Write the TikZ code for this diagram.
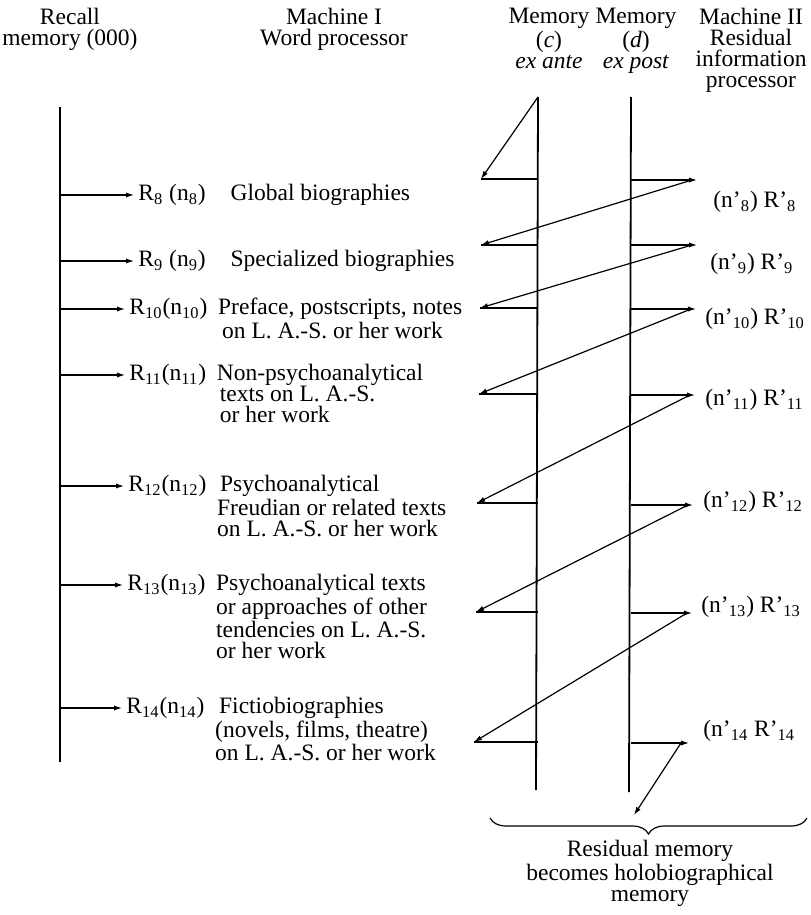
\documentclass[tikz,border=0pt]{standalone}
\usepackage{fontspec}
\setmainfont{Liberation Serif}
\usetikzlibrary{arrows.meta,positioning,decorations.pathreplacing}
\tikzset{
  hdr/.style={align=center, inner sep=0pt},
  rlab/.style={inner xsep=2pt, inner ysep=0pt},
  desc/.style={align=left, inner sep=0pt},
  plab/.style={inner sep=0pt},
  mline/.style={line width=0.9pt},
  hline/.style={line width=0.6pt},
  arr/.style={-{Latex[length=4pt,width=2.6pt]}, line width=0.6pt},
}

\begin{document}
\begin{tikzpicture}[x=0.5pt, y=-0.5pt, font=\fontsize{11.75}{10.5}\selectfont]
\useasboundingbox (0,0) rectangle (810,915);

% column headings
\node[hdr, anchor=north] (recall) at (70,8) {Recall\\memory (000)};
\node[hdr, anchor=north] (mach1) at (334,8) {Machine I\\Word processor};
\node[hdr, anchor=north] (memc) at (549,8) {Memory\\(\textit{c})\\\textit{ex ante}};
\node[hdr, anchor=north] (memd) at (636,8) {Memory\\(\textit{d})\\\textit{ex post}};
\node[hdr, anchor=north] (mach2) at (751,8) {Machine II\\Residual\\information\\processor};

% the three memory lines
\coordinate (rtop) at (60,107);
\coordinate (rbot) at (60,762);
\coordinate (ctop) at (538,97);
\coordinate (cbot) at (536,790);
\coordinate (dtop) at (631,97);
\coordinate (dbot) at (629,792);
\draw[mline] (rtop) -- (rbot);
\draw[mline] (ctop) -- (cbot);
\draw[mline] (dtop) -- (dbot);

% Machine I entries
\node[rlab, anchor=west] (r8) at (134,195) {R\textsubscript{8} (n\textsubscript{8})};
\node[desc, right=10pt of r8.north east, anchor=north west] (d8) {Global biographies};
\node[rlab, anchor=west] (r9) at (134,261) {R\textsubscript{9} (n\textsubscript{9})};
\node[desc, right=10pt of r9.north east, anchor=north west] (d9) {Specialized biographies};
\node[rlab, anchor=west] (r10) at (125,309) {R\textsubscript{10}(n\textsubscript{10})};
\node[desc, right=3pt of r10.north east, anchor=north west] (d10) {Preface, postscripts, notes\\\hspace{2pt}on L. A.-S. or her work};
\node[rlab, anchor=west] (r11) at (125,375) {R\textsubscript{11}(n\textsubscript{11})};
\node[desc, right=3pt of r11.north east, anchor=north west] (d11) {Non-psychoanalytical\\\hspace{1.5pt}texts on L. A.-S.\\\hspace{1.5pt}or her work};
\node[rlab, anchor=west] (r12) at (124,486) {R\textsubscript{12}(n\textsubscript{12})};
\node[desc, right=3pt of r12.north east, anchor=north west] (d12) {\hspace{1.5pt}Psychoanalytical\\Freudian or related texts\\on L. A.-S. or her work};
\node[rlab, anchor=west] (r13) at (123,585) {R\textsubscript{13}(n\textsubscript{13})};
\node[desc, right=3pt of r13.north east, anchor=north west] (d13) {Psychoanalytical texts\\or approaches of other\\tendencies on L. A.-S.\\or her work};
\node[rlab, anchor=west] (r14) at (122,708) {R\textsubscript{14}(n\textsubscript{14})};
\node[desc, right=3pt of r14.north east, anchor=north west] (d14) {\hspace{2pt}Fictiobiographies\\(novels, films, theatre)\\on L. A.-S. or her work};

\draw[arr] (r8.west -| rtop) -- (r8.west);
\draw[arr] (r9.west -| rtop) -- (r9.west);
\draw[arr] (r10.west -| rtop) -- (r10.west);
\draw[arr] (r11.west -| rtop) -- (r11.west);
\draw[arr] (r12.west -| rtop) -- (r12.west);
\draw[arr] (r13.west -| rtop) -- (r13.west);
\draw[arr] (r14.west -| rtop) -- (r14.west);

% Machine II entries
\node[plab, anchor=west] (q8) at (713,202) {(n’\textsubscript{8}) R’\textsubscript{8}};
\node[plab, anchor=west] (q9) at (710,264) {(n’\textsubscript{9}) R’\textsubscript{9}};
\node[plab, anchor=west] (q10) at (705,319) {(n’\textsubscript{10}) R’\textsubscript{10}};
\node[plab, anchor=west] (q11) at (705,400) {(n’\textsubscript{11}) R’\textsubscript{11}};
\node[plab, anchor=west] (q12) at (703,502) {(n’\textsubscript{12}) R’\textsubscript{12}};
\node[plab, anchor=west] (q13) at (701,607) {(n’\textsubscript{13}) R’\textsubscript{13}};
\node[plab, anchor=west] (q14) at (703,731) {(n’\textsubscript{14} R’\textsubscript{14}};

% ex ante / ex post points
\coordinate (p1) at (481,179);
\coordinate (p2) at (481,245);
\coordinate (p3) at (480,308);
\coordinate (p4) at (479,394);
\coordinate (p5) at (477,503);
\coordinate (p6) at (476,612);
\coordinate (p7) at (474,742);
\coordinate (t1) at (697,180);
\coordinate (t2) at (697,245);
\coordinate (t3) at (696,309);
\coordinate (t4) at (695,395);
\coordinate (t5) at (693,505);
\coordinate (t6) at (692,613);
\coordinate (t7) at (689,743);
\coordinate (hb) at (634,815);

\draw[hline] (p1 -| ctop) -- (p1);
\draw[hline] (p2 -| ctop) -- (p2);
\draw[hline] (p3 -| ctop) -- (p3);
\draw[hline] (p4 -| ctop) -- (p4);
\draw[hline] (p5 -| ctop) -- (p5);
\draw[hline] (p6 -| ctop) -- (p6);
\draw[hline] (p7 -| ctop) -- (p7);

\draw[arr] (t1 -| dtop) -- (t1);
\draw[arr] (t2 -| dtop) -- (t2);
\draw[arr] (t3 -| dtop) -- (t3);
\draw[arr] (t4 -| dtop) -- (t4);
\draw[arr] (t5 -| dtop) -- (t5);
\draw[arr] (t6 -| dtop) -- (t6);
\draw[arr] (t7 -| dtop) -- (t7);

\draw[arr] (ctop) -- (p1);
\draw[arr] ([xshift=-2.5pt]t1) -- (p2);
\draw[arr] ([xshift=-2.5pt]t2) -- (p3);
\draw[arr] ([xshift=-2.5pt]t3) -- (p4);
\draw[arr] ([xshift=-2.5pt]t4) -- (p5);
\draw[arr] ([xshift=-2.5pt]t5) -- (p6);
\draw[arr] ([xshift=-2.5pt]t6) -- (p7);
\draw[arr] ([xshift=-4pt]t7) -- (hb);

% residual memory
\coordinate (bl) at (490,818);
\coordinate (br) at (807,818);
\draw[hline, decorate, decoration={brace, mirror, amplitude=8pt}] (bl) -- (br);
\node[hdr, anchor=north] (resid) at (650,840) {Residual memory\\becomes holobiographical\\memory};

\end{tikzpicture}
\end{document}
